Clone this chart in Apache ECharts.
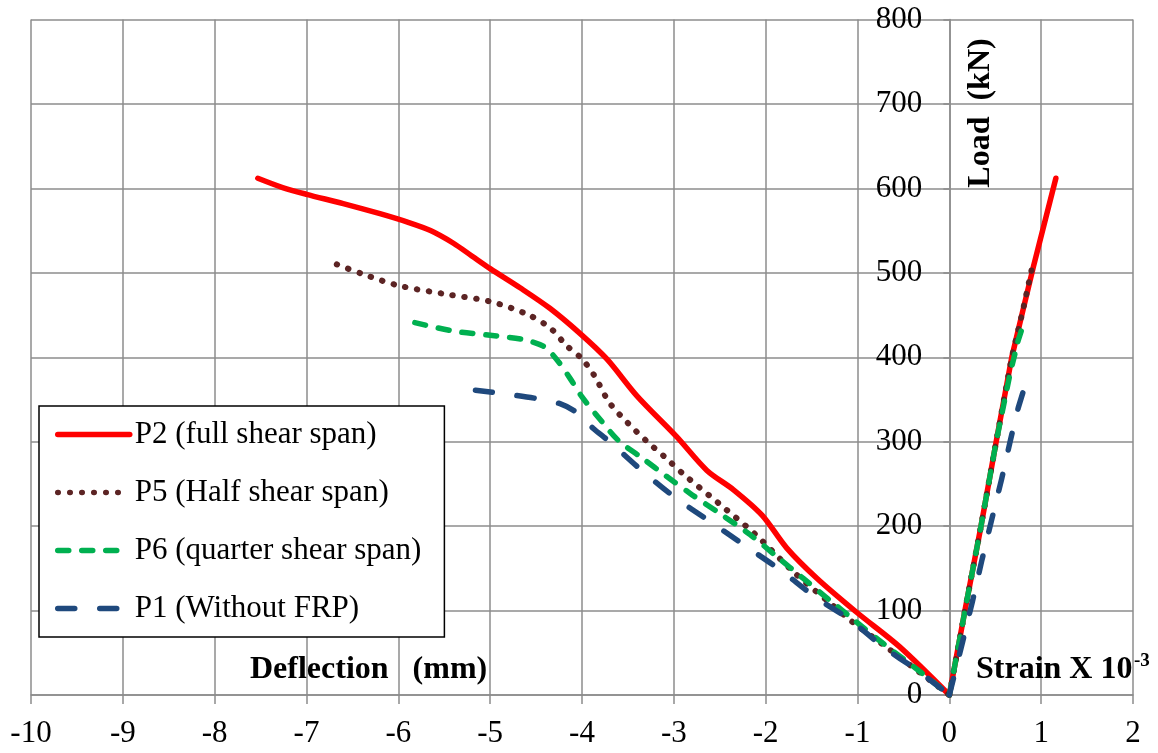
<!DOCTYPE html>
<html><head><meta charset="utf-8">
<script src="https://cdn.jsdelivr.net/npm/echarts@6/dist/echarts.min.js"></script>
<style>html,body{margin:0;padding:0;background:#fff;}#c{width:1158px;height:753px;}</style>
</head><body><div id="c"></div>
<script>
const seriesNames = ['P2 (full shear span)', 'P5 (Half shear span)', 'P6 (quarter shear span)', 'P1 (Without FRP)'];
// [deflection or strain, load kN]
const p2Deflection = [[-7.53,612],[-7.26,601],[-7.0,593],[-6.6,582],[-6.2,570],[-5.9,560],[-5.65,550],[-5.4,535],[-5.2,520],[-5.0,505],[-4.67,482],[-4.35,458],[-4.02,428],[-3.73,398],[-3.4,354],[-2.97,306],[-2.64,266],[-2.35,243],[-2.04,213],[-1.77,174],[-1.44,138],[-1.01,98],[-0.54,57],[0,0]];
const p2Strain = [[0,0],[0.17,100],[0.345,200],[0.51,300],[0.68,400],[0.8,455],[0.915,507],[1.16,612]];
const p5Deflection = [[-6.67,510],[-6.4,499],[-6.0,485],[-5.5,475],[-5.0,466],[-4.6,451],[-4.35,435],[-4.17,414],[-4.0,398],[-3.87,379],[-3.7,346],[-3.5,322],[-3.3,301],[-3.1,282],[-2.9,262],[-2.5,226],[-2.1,189],[-1.7,146],[-1.3,109],[-1.06,87],[-0.7,58],[-0.35,29],[0,0]];
const p5Strain = [[0,0],[0.17,100],[0.345,200],[0.51,300],[0.68,400],[0.8,455],[0.905,508]];
const p6Deflection = [[-5.82,441],[-5.4,431],[-5.0,426],[-4.64,421],[-4.42,413],[-4.28,398],[-4.13,375],[-4.0,353],[-3.8,326],[-3.6,301],[-3.35,281],[-3.08,259],[-2.8,237],[-2.5,215],[-2.17,190],[-1.88,164],[-1.59,138],[-1.3,112],[-1.04,89],[-0.72,61],[-0.3,26],[0,0]];
const p6Strain = [[0,0],[0.17,100],[0.345,200],[0.51,300],[0.66,380],[0.75,420],[0.81,440]];
const p1Deflection = [[-5.16,361],[-4.8,356],[-4.49,351],[-4.24,345],[-4.05,334],[-3.88,316],[-3.7,300],[-3.35,266],[-3.0,235],[-2.6,205],[-2.2,175],[-1.84,148],[-1.46,116],[-1.08,89],[-0.72,57],[-0.36,30],[0,0]];
const p1Strain = [[0,0],[0.14,61],[0.25,110],[0.353,159],[0.46,207],[0.57,256],[0.67,304],[0.75,340],[0.82,365]];

const xMin = -10, xMax = 2, xStep = 1;
const yMin = 0, yMax = 800, yStep = 100;

const FONT = '"Liberation Serif", "Times New Roman", serif';
const GRID = '#8c8c8c';
const GRID_LEFT = 31, GRID_RIGHT = 25, CHART_W = 1158;
// y axis sits at x = 0 of the x axis
const plotW = CHART_W - GRID_LEFT - GRID_RIGHT;
const yAxisOffset = -plotW * (0 - xMin) / (xMax - xMin);

const styles = [
  {color:'#ff0000', width:5.5, type:'solid', cap:'round', join:'round'},
  {color:'#5c2424', width:6, type:[0.5, 11.5], cap:'round', join:'round'},
  {color:'#00b050', width:5.5, type:[11, 13], cap:'round', join:'round'},
  {color:'#1f497d', width:5.5, type:[17, 25], cap:'round', join:'round'}
];
const dataSets = [[p2Deflection, p2Strain],[p5Deflection, p5Strain],[p6Deflection, p6Strain],[p1Deflection, p1Strain]];

const series = [];
dataSets.forEach((pair, i) => {
  pair.forEach((d, j) => {
    series.push({
      name: seriesNames[i],
      type: 'line',
      data: d,
      symbol: 'none',
      showSymbol: false,
      smooth: j === 0 ? 0.3 : false,
      lineStyle: Object.assign({}, styles[i]),
      itemStyle: {color: styles[i].color},
      z: 3 + i
    });
  });
});

const chart = echarts.init(document.getElementById('c'), null, {renderer:'canvas'});
chart.setOption({
  animation: false,
  backgroundColor: '#fff',
  grid: {left:GRID_LEFT, right:GRID_RIGHT, top:19.5, bottom:58, containLabel:false, outerBoundsMode:'none'},
  xAxis: {
    type:'value', min:xMin, max:xMax, interval:xStep,
    axisLine:{show:true, onZero:false, lineStyle:{color:GRID, width:1.5}},
    axisTick:{show:true, length:9, lineStyle:{color:GRID, width:1.5}},
    axisLabel:{margin:23, fontFamily:FONT, fontSize:31, color:'#000'},
    splitLine:{show:true, lineStyle:{color:GRID, width:1.5}}
  },
  yAxis: {
    type:'value', min:yMin, max:yMax, interval:yStep,
    position:'left', offset:yAxisOffset,
    axisLine:{show:true, onZero:false, lineStyle:{color:GRID, width:1.5}},
    axisTick:{show:true, length:6, lineStyle:{color:GRID, width:1.5}},
    axisLabel:{margin:27, fontFamily:FONT, fontSize:31, color:'#000'},
    splitLine:{show:true, lineStyle:{color:GRID, width:1.5}}
  },
  legend: {
    orient:'vertical', left:39, top:406,
    padding:[13,23,13,16], itemGap:27, itemWidth:72, itemHeight:20,
    backgroundColor:'#fff', borderColor:'#000', borderWidth:1.5, borderRadius:0,
    textStyle:{fontFamily:FONT, fontSize:31, color:'#000', lineHeight:31},
    itemStyle:{opacity:0, borderWidth:0},
    lineStyle:{width:5.5, cap:'round'},
    data: seriesNames
  },
  graphic: [
    {type:'text', x:250, y:670, z:10, style:{text:'Deflection   (mm)', fontFamily:FONT, fontSize:32, fontWeight:'bold', fill:'#000', align:'left', verticalAlign:'middle'}},
    {type:'text', x:976, y:670, z:10, style:{text:'Strain X 10', fontFamily:FONT, fontSize:32, fontWeight:'bold', fill:'#000', align:'left', verticalAlign:'middle'}},
    {type:'text', x:1134, y:661, z:10, style:{text:'-3', fontFamily:FONT, fontSize:19, fontWeight:'bold', fill:'#000', align:'left', verticalAlign:'middle'}},
    {type:'text', x:981, y:113, rotation:Math.PI/2, z:10, style:{text:'Load  (kN)', fontFamily:FONT, fontSize:32, fontWeight:'bold', fill:'#000', align:'center', verticalAlign:'middle'}}
  ],
  series: series
});
</script>
</body></html>
